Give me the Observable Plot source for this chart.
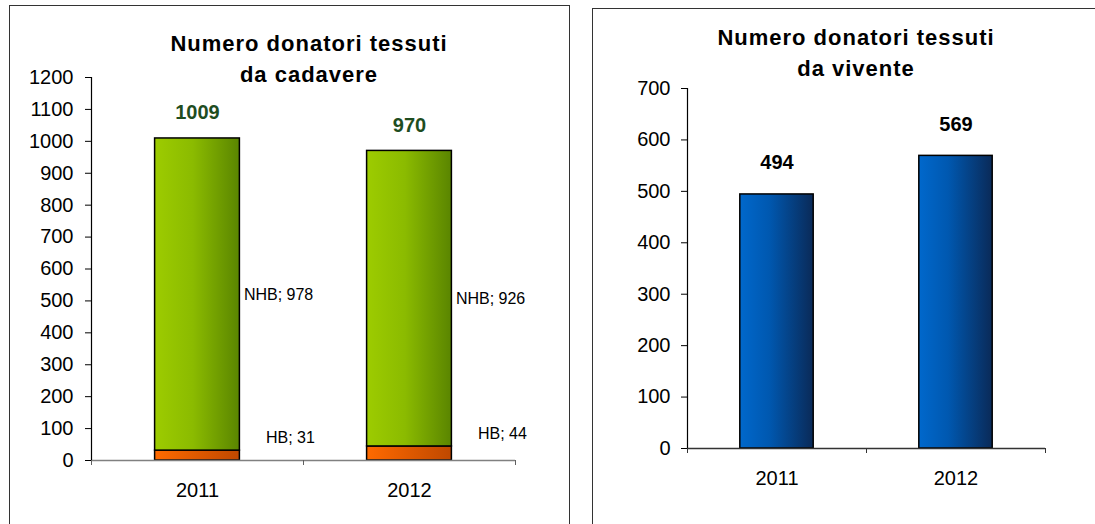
<!DOCTYPE html>
<html>
<head>
<meta charset="utf-8">
<script src="https://cdn.jsdelivr.net/npm/d3@7"></script>
<script src="https://cdn.jsdelivr.net/npm/@observablehq/plot@0.6"></script>
<style>
  html, body { margin: 0; padding: 0; background: #fff; width: 1095px; height: 524px; overflow: hidden; position: relative; }
  body { font-family: "Liberation Sans", Arial, sans-serif; }
  .panel { position: absolute; border: 1.5px solid #333; box-sizing: border-box; background: #fff; }
  .title { position: absolute; text-align: center; font-weight: bold; font-size: 22px; letter-spacing: 1px; line-height: 31px; color: #000; white-space: nowrap; }
  .chart { position: absolute; top: 0; }
</style>
</head>
<body>
<div class="panel" style="left:9px; top:5px; width:561px; height:540px;"></div>
<div class="panel" style="left:592px; top:8px; width:520px; height:540px;"></div>
<div id="left" class="chart" style="left:0px;"></div>
<div id="right" class="chart" style="left:590px;"></div>
<div class="title" id="t1" style="left:159px; width:300px; top:28px;"></div>
<div class="title" id="t2" style="left:706px; width:300px; top:22px;"></div>
<script>
// ---- data ----
const years = ["2011", "2012"];
const hbValues = [31, 44];
const nhbValues = [978, 926];
const cadavereTotals = [1009, 970];
const viventeValues = [494, 569];
const leftTicks = [0, 100, 200, 300, 400, 500, 600, 700, 800, 900, 1000, 1100, 1200];
const rightTicks = [0, 100, 200, 300, 400, 500, 600, 700];
const titleLeft = ["Numero donatori tessuti", "da cadavere"];
const titleRight = ["Numero donatori tessuti", "da vivente"];

document.getElementById("t1").innerHTML = titleLeft.join("<br>");
document.getElementById("t2").innerHTML = titleRight.join("<br>");

const font = "'Liberation Sans', Arial, sans-serif";

const rowsL = years.map((y, i) => ({ i, year: y, hb: hbValues[i], nhb: nhbValues[i], top: hbValues[i] + nhbValues[i], total: cadavereTotals[i] }));
const rowsR = years.map((y, i) => ({ i, year: y, value: viventeValues[i] }));

function addDefs(svg, html) {
  svg.insertAdjacentHTML("afterbegin", "<defs>" + html + "</defs>");
}

const left = Plot.plot({
  width: 570,
  height: 524,
  marginLeft: 91,
  marginRight: 55,
  marginTop: 77,
  marginBottom: 64,
  style: { fontFamily: font, fontSize: "20px", color: "#000", background: "transparent", overflow: "visible" },
  x: { domain: [0, 2], axis: null },
  y: { domain: [0, 1200], axis: null, label: null },
  marks: [
    Plot.rectY(rowsL, { x1: d => d.i + 0.3, x2: d => d.i + 0.7, y1: 0, y2: "hb", fill: "url(#gOrange)", stroke: "#000", strokeWidth: 1.5 }),
    Plot.rectY(rowsL, { x1: d => d.i + 0.3, x2: d => d.i + 0.7, y1: "hb", y2: "top", fill: "url(#gGreen)", stroke: "#000", strokeWidth: 1.5 }),
    Plot.ruleY([0], { stroke: "#808080", strokeWidth: 1.5 }),
    Plot.ruleX([0], { stroke: "#000", strokeWidth: 1.2 }),
    Plot.axisY({ ticks: leftTicks, tickSize: 6, tickPadding: 12, fontSize: 20, tickFormat: d => String(d), label: null }),
    Plot.axisX({ ticks: [0, 1, 2], tickSize: 5, tickFormat: () => "", label: null, stroke: "#606060" }),
    Plot.axisX({ ticks: [0.5, 1.5], tickSize: 0, tickPadding: 22, fontSize: 20, tickFormat: d => years[Math.floor(d)], label: null }),
    Plot.text(rowsL, { x: d => d.i + 0.5, y: "total", text: d => String(d.total), lineAnchor: "bottom", dy: -19, fontSize: 20, fontWeight: "bold", fill: "#1f4d1f" }),
    Plot.text(rowsL, { x: d => d.i + 0.7, y: d => d.hb + d.nhb / 2, text: d => "NHB; " + d.nhb, textAnchor: "start", lineAnchor: "middle", dx: 4, fontSize: 16 }),
    Plot.text(rowsL, { x: d => d.i + 0.7, y: "hb", text: d => "HB; " + d.hb, textAnchor: "start", lineAnchor: "middle", dx: 26, dy: -13, fontSize: 16 })
  ]
});
addDefs(left,
  '<linearGradient id="gGreen" x1="0" x2="1" y1="0" y2="0"><stop offset="0" stop-color="#9dcc00"/><stop offset="0.45" stop-color="#8bbb00"/><stop offset="1" stop-color="#5a8500"/></linearGradient>' +
  '<linearGradient id="gOrange" x1="0" x2="1" y1="0" y2="0"><stop offset="0" stop-color="#ff6a00"/><stop offset="1" stop-color="#bf4800"/></linearGradient>');
document.getElementById("left").appendChild(left);

const right = Plot.plot({
  width: 505,
  height: 524,
  marginLeft: 97,
  marginRight: 50,
  marginTop: 88,
  marginBottom: 76,
  style: { fontFamily: font, fontSize: "20px", color: "#000", background: "transparent", overflow: "visible" },
  x: { domain: [0, 2], axis: null },
  y: { domain: [0, 700], axis: null, label: null },
  marks: [
    Plot.rectY(rowsR, { x1: d => d.i + 0.295, x2: d => d.i + 0.705, y1: 0, y2: "value", fill: "url(#gBlue)", stroke: "#000", strokeWidth: 1.5 }),
    Plot.ruleY([0], { stroke: "#333", strokeWidth: 1.5 }),
    Plot.ruleX([0], { stroke: "#000", strokeWidth: 1.2 }),
    Plot.axisY({ ticks: rightTicks, tickSize: 6, tickPadding: 11, fontSize: 20, tickFormat: d => String(d), label: null }),
    Plot.axisX({ ticks: [0, 1, 2], tickSize: 5, tickFormat: () => "", label: null, stroke: "#333" }),
    Plot.axisX({ ticks: [0.5, 1.5], tickSize: 0, tickPadding: 22, fontSize: 20, tickFormat: d => years[Math.floor(d)], label: null }),
    Plot.text(rowsR, { x: d => d.i + 0.5, y: "value", text: d => String(d.value), lineAnchor: "bottom", dy: -25, fontSize: 20, fontWeight: "bold", fill: "#000" })
  ]
});
addDefs(right,
  '<linearGradient id="gBlue" x1="0" x2="1" y1="0" y2="0"><stop offset="0" stop-color="#0068cc"/><stop offset="0.4" stop-color="#0058b0"/><stop offset="1" stop-color="#0a2a58"/></linearGradient>');
document.getElementById("right").appendChild(right);
</script>
</body>
</html>
